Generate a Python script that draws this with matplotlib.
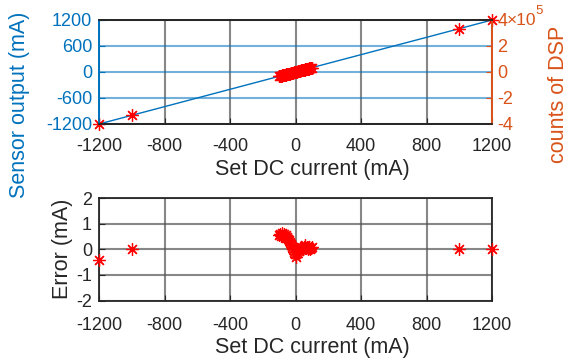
import matplotlib
matplotlib.use("Agg")
import matplotlib.pyplot as plt
from matplotlib.ticker import FuncFormatter

plt.rcParams['font.family'] = ['Liberation Sans', 'DejaVu Sans']
plt.rcParams['axes.unicode_minus'] = False

# Set DC current (mA)
set_current = [-1200, -1000,
               -100, -95, -90, -85, -80, -75, -70, -65, -60, -55, -50,
               -45, -40, -35, -30, -25, -20, -15, -10, -5, 0,
               5, 10, 15, 20, 25, 30, 35, 40, 45, 50,
               55, 60, 65, 70, 75, 80, 85, 90, 95, 100,
               1000, 1200]
# Error (mA) = sensor output - set current
error = [-0.4, 0.0,
         0.55, 0.6, 0.5, 0.62, 0.55, 0.5, 0.58, 0.52, 0.55, 0.45, 0.48,
         0.4, 0.35, 0.28, 0.22, 0.15, 0.08, 0.0, -0.1, -0.2, -0.3,
         -0.2, -0.1, 0.0, -0.05, 0.05, 0.0, 0.1, 0.05, 0.0, 0.1,
         0.05, 0.15, 0.05, 0.1, 0.0, 0.1, 0.05, 0.0, 0.05, 0.1,
         0.0, 0.0]
sensor_output = [c + e for c, e in zip(set_current, error)]

x_ticks = [-1200, -800, -400, 0, 400, 800, 1200]
left_ticks = [-1200, -600, 0, 600, 1200]
right_ticks = [-4e5, -2e5, 0, 2e5, 4e5]
err_ticks = [-2, -1, 0, 1, 2]

BLUE = '#0072BD'
ORANGE = '#D95319'
DARK = '#262626'
W, H = 575, 360
AST = (8, 2, 0)

fig = plt.figure(figsize=(5.75, 3.6), dpi=100)

ax1 = fig.add_axes([99 / W, 1 - 124 / H, 393 / W, 104 / H])
ax2 = ax1.twinx()
ax3 = fig.add_axes([99 / W, 1 - 300.5 / H, 393 / W, 102.5 / H])

# Top plot
ax1.plot(set_current, sensor_output, '-', color=BLUE, lw=1.0, zorder=3)
ax1.plot(set_current, sensor_output, ls='none', marker=AST, color='red', ms=9, mew=0.9,
         zorder=4, clip_on=False)
ax1.set_xlim(-1200, 1200)
ax1.set_ylim(-1200, 1200)
ax1.set_xticks(x_ticks)
ax1.set_yticks(left_ticks)
ax1.xaxis.grid(True, color='#555555', alpha=0.7, lw=1.5)
ax1.yaxis.grid(True, color=BLUE, alpha=0.55, lw=1.5)
ax1.set_axisbelow(True)
ax1.tick_params(axis='x', direction='in', labelsize=13, colors=DARK, pad=10, length=4)
ax1.tick_params(axis='y', direction='in', labelsize=13, colors=BLUE, pad=5, length=4)

ax2.set_ylim(-4e5, 4e5)
ax2.set_yticks(right_ticks)
ax2.yaxis.set_major_formatter(FuncFormatter(lambda v, p: f"{v/1e5:g}"))
ax2.tick_params(axis='y', direction='in', labelsize=13, colors=ORANGE, pad=4, length=4)

for a in (ax1, ax2):
    a.spines['top'].set_color(DARK)
    a.spines['bottom'].set_color(DARK)
    a.spines['left'].set_color(BLUE)
    a.spines['right'].set_color(ORANGE)
    for s in a.spines.values():
        s.set_linewidth(1.3)

fig.text(507 / W, 1 - 20.5 / H, '\u00d710', fontsize=12.5, color=ORANGE, ha='left', va='center')
fig.text(535 / W, 1 - 11 / H, '5', fontsize=9.5, color=ORANGE, ha='left', va='center')
fig.text(20 / W, 1 - 105 / H, 'Sensor output (mA)', rotation=90, fontsize=15.5,
         color=BLUE, ha='center', va='center')
fig.text(558 / W, 1 - 94 / H, 'counts of DSP', rotation=90, fontsize=15.5,
         color=ORANGE, ha='center', va='center')
fig.text(312 / W, 1 - 169 / H, 'Set DC current (mA)', fontsize=15.5, color=DARK,
         ha='center', va='center')

# Bottom plot
ax3.plot(set_current, error, ls='none', marker=AST, color='red', ms=9, mew=0.9,
         zorder=4, clip_on=False)
ax3.set_xlim(-1200, 1200)
ax3.set_ylim(-2, 2)
ax3.set_xticks(x_ticks)
ax3.set_yticks(err_ticks)
ax3.grid(True, color='#555555', alpha=0.7, lw=1.5)
ax3.set_axisbelow(True)
ax3.tick_params(axis='both', direction='in', labelsize=13, colors=DARK, length=4)
ax3.tick_params(axis='x', pad=12)
ax3.tick_params(axis='y', pad=5)
ax3.set_ylabel('Error (mA)', fontsize=15.5, color=DARK, labelpad=2)
for s in ax3.spines.values():
    s.set_color(DARK)
    s.set_linewidth(1.3)
fig.text(312 / W, 1 - 347 / H, 'Set DC current (mA)', fontsize=15.5, color=DARK,
         ha='center', va='center')

fig.savefig('out.png', dpi=100)
